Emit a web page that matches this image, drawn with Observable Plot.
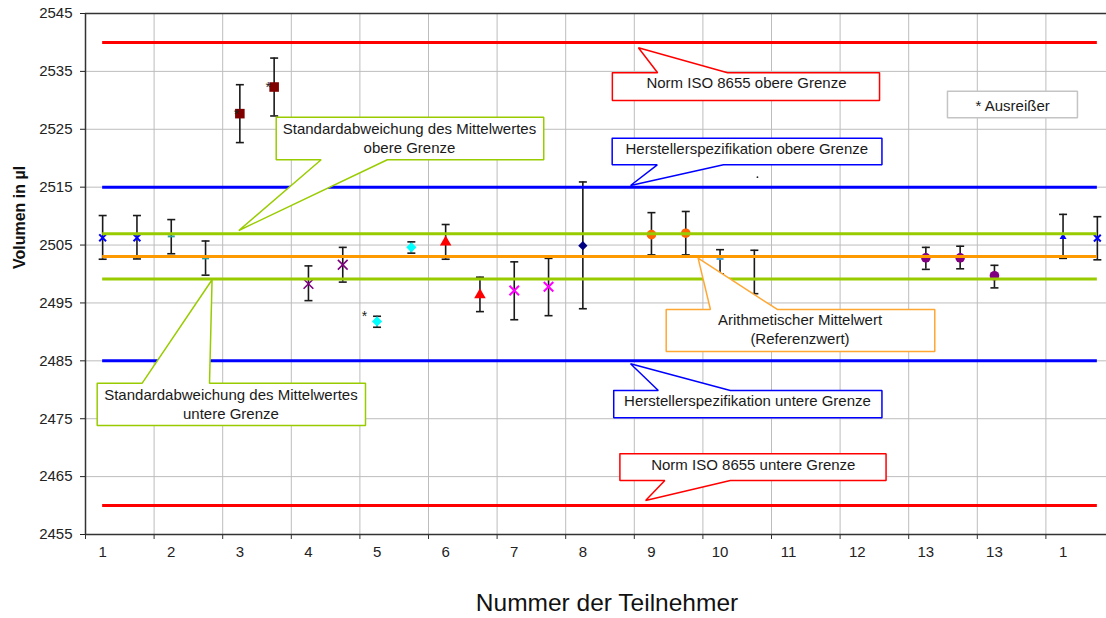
<!DOCTYPE html>
<html><head><meta charset="utf-8">
<script src="https://cdn.jsdelivr.net/npm/d3@7"></script>
<script src="https://cdn.jsdelivr.net/npm/@observablehq/plot@0.6"></script>
<style>body{margin:0;background:#fff;} #chart{width:1106px;height:618px;overflow:hidden;}</style>
</head><body><div id="chart"></div>
<script>
// ---- data ----
const participantLabels = ["1","2","3","4","5","6","7","8","9","10","11","12","13","13","1"];
const values = [2506.25, 2506.25, 2506.5, 2502.7, 2527.7, 2532.3, 2498.3, 2501.6, 2491.8, 2504.6,
                2505.5, 2496.4, 2497.15, 2497.8, 2504.9, null, 2506.8, 2507.05, 2502.6, 2499.1,
                null, null, null, null, 2502.8, 2502.8, 2499.7, null, 2506.4, 2506.2];
const lows   = [2502.55, 2502.6, 2503.5, 2499.8, 2522.7, 2527.3, 2495.4, 2498.6, 2490.8, 2503.6,
                2502.55, 2493.5, 2492.1, 2492.8, 2494.0, null, 2503.3, 2503.3, 2500.0, 2496.6,
                null, null, null, null, 2500.8, 2500.9, 2497.6, null, 2502.7, 2502.45];
const highs  = [2510.1, 2510.1, 2509.4, 2505.7, 2532.7, 2537.3, 2501.4, 2504.6, 2492.7, 2505.55,
                2508.55, 2499.45, 2502.1, 2502.7, 2515.9, null, 2510.6, 2510.8, 2504.2, 2504.1,
                null, null, null, null, 2504.6, 2504.8, 2501.5, null, 2510.3, 2509.9];
const markerKeys = ["blueX","blueX","tealDash","tealDash","darkRedSquare","darkRedSquare","purpleX","purpleX","cyanDiamond","cyanDiamond",
                "redTriangle","redTriangle","magentaX","magentaX","navyDiamond",null,"orangeCircle","orangeCircle","lightBlueDash","lightBlueDash",
                null,null,null,null,"purpleCircle","purpleCircle","purpleCircle",null,"blueTriangle","blueX"];
const refLines = [
  {name:"Norm ISO 8655 obere Grenze", value:2540, color:"#ff0000"},
  {name:"Norm ISO 8655 untere Grenze", value:2460, color:"#ff0000"},
  {name:"Herstellerspezifikation obere Grenze", value:2515, color:"#0000ff"},
  {name:"Herstellerspezifikation untere Grenze", value:2485, color:"#0000ff"},
  {name:"SD obere Grenze", value:2506.95, color:"#99cc00"},
  {name:"SD untere Grenze", value:2499.15, color:"#99cc00"},
  {name:"Mittelwert", value:2503.03, color:"#ff9900"}
];
const outlierStars = [{x:4.40, y:2528.24},{x:5.33, y:2532.96},{x:8.13, y:2493.4}];
const strayDot = [{x:19.59, y:2516.72}];
const callouts = [
 {text:"Norm ISO 8655 obere Grenze", color:"#ff0000", box:[15.36,23.15,2529.97,2534.76], edge:"top", base:[16.68,18.72], tip:[16.12,2539.07], at:[19.27,2533.13]},
 {text:"* Ausreißer", color:"#c4c4c4", box:[25.13,28.92,2526.98,2531.58], at:[27.03,2529.28]},
 {text:"Herstellerspezifikation obere Grenze", color:"#0000ff", box:[15.355,23.22,2518.86,2523.46], edge:"bottom", base:[16.67,18.6], tip:[15.89,2515.29], at:[19.28,2521.73]},
 {text:"Standardabweichung des Mittelwertes\nobere Grenze", color:"#99cc00", box:[5.56,13.36,2519.73,2527.09], edge:"bottom", base:[6.87,8.80], tip:[4.47,2507.52], at:[9.445,2523.58]},
 {text:"Standardabweichung des Mittelwertes\nuntere Grenze", color:"#99cc00", box:[0.341,8.163,2473.83,2481.14], edge:"top", base:[1.653,3.615], tip:[3.69,2499.0], at:[4.24,2477.67]},
 {text:"Arithmetischer Mittelwert\n(Referenzwert)", color:"#ffa733", box:[16.93,24.76,2486.61,2493.87], edge:"top", base:[18.22,20.17], tip:[17.86,2502.75], at:[20.83,2490.59]},
 {text:"Herstellerspezifikation untere Grenze", color:"#0000ff", box:[15.40,23.22,2475.16,2479.88], edge:"top", base:[16.70,18.80], tip:[15.89,2484.49], at:[19.30,2478.27]},
 {text:"Norm ISO 8655 untere Grenze", color:"#ff0000", box:[15.58,23.34,2464.33,2468.94], edge:"bottom", base:[16.89,18.80], tip:[16.33,2460.87], at:[19.47,2467.21]}
];

// ---- derived ----
const nCat = values.length;
const yTicks = d3.range(2455, 2546, 10);
const xGrid = d3.range(2, nCat, 2);
const rows = values.map((v, i) => ({x: i + 0.5, v, lo: lows[i], hi: highs[i], key: markerKeys[i]})).filter(d => d.v != null);

const dash = {draw(ctx) { ctx.moveTo(-3.5, 0); ctx.lineTo(3.5, 0); }};
const cap = {draw(ctx) { ctx.moveTo(-4, 0); ctx.lineTo(4, 0); }};
const markerStyles = {
  blueX: {symbol:"times", r:3.2, stroke:"#0000ff", strokeWidth:2, fill:"none"},
  tealDash: {symbol:dash, stroke:"#2e9e9e", strokeWidth:2, fill:"none"},
  darkRedSquare: {symbol:"square", r:5.4, fill:"#800000", stroke:"none"},
  purpleX: {symbol:"times", r:4.5, stroke:"#800080", strokeWidth:1.6, fill:"none"},
  cyanDiamond: {symbol:"diamond2", r:4.6, fill:"#00ffff", stroke:"none"},
  redTriangle: {symbol:"triangle", r:4.3, fill:"#ff0000", stroke:"none"},
  magentaX: {symbol:"times", r:4.4, stroke:"#ff00ff", strokeWidth:2, fill:"none"},
  navyDiamond: {symbol:"diamond2", r:4.2, fill:"#000080", stroke:"none"},
  orangeCircle: {symbol:"circle", r:4.8, fill:"#ff6600", stroke:"none"},
  lightBlueDash: {symbol:dash, stroke:"#4da6e0", strokeWidth:2, fill:"none"},
  purpleCircle: {symbol:"circle", r:4.8, fill:"#800080", stroke:"none"},
  blueTriangle: {symbol:"triangle", r:2.6, fill:"#0000ff", stroke:"none"}
};
const markerMarks = Object.entries(markerStyles).map(([k, s]) =>
  Plot.dot(rows.filter(d => d.key === k), {x: "x", y: "v", ...s}));

function outline(c) {
  const [x1, x2, y1, y2] = c.box;
  if (c.edge === "top") return [[x1,y2],[c.base[0],y2],c.tip,[c.base[1],y2],[x2,y2],[x2,y1],[x1,y1],[x1,y2]];
  if (c.edge === "bottom") return [[x1,y2],[x2,y2],[x2,y1],[c.base[1],y1],c.tip,[c.base[0],y1],[x1,y1],[x1,y2]];
  return [[x1,y2],[x2,y2],[x2,y1],[x1,y1],[x1,y2]];
}
const calloutMarks = callouts.map(c => Plot.line(outline(c), {
  x: d => d[0], y: d => d[1], stroke: c.color, fill: "white", strokeWidth: 1.5, strokeLinejoin: "miter"}));

const chart = Plot.plot({
  width: 1106, height: 618,
  marginLeft: 85, marginTop: 13, marginBottom: 84, marginRight: -8,
  x: {domain: [0, nCat], axis: null},
  y: {domain: [2455, 2545], axis: null},
  style: {fontFamily: "'Liberation Sans', Arial, sans-serif", fontSize: "15px", background: "white", overflow: "hidden"},
  marks: [
    Plot.gridY(yTicks, {stroke: "#bdbdbd", strokeOpacity: 1}),
    Plot.gridX(xGrid, {stroke: "#bdbdbd", strokeOpacity: 1}),
    Plot.ruleX(rows, {x: "x", y1: "lo", y2: "hi", stroke: "#1a1a1a", strokeWidth: 1.6}),
    Plot.dot(rows, {x: "x", y: "hi", symbol: cap, stroke: "#1a1a1a", strokeWidth: 1.6, fill: "none"}),
    Plot.dot(rows, {x: "x", y: "lo", symbol: cap, stroke: "#1a1a1a", strokeWidth: 1.6, fill: "none"}),
    ...markerMarks,
    Plot.ruleY(refLines, {y: "value", x1: 0.5, x2: nCat - 0.5, stroke: "color", strokeWidth: 3}),
    ...calloutMarks,
    Plot.text(callouts, {x: d => d.at[0], y: d => d.at[1], text: "text", fontSize: 15, lineHeight: 1.25, fill: "#1a1a1a"}),
    Plot.text(outlierStars, {x: "x", y: "y", text: () => "*", fontSize: 14, dy: 4, fill: "#222"}),
    Plot.dot(strayDot, {x: "x", y: "y", r: 0.9, fill: "#222", stroke: "none"}),
    Plot.ruleX([0], {stroke: "#333", strokeWidth: 1.5}),
    Plot.ruleY([2455, 2545], {stroke: "#333", strokeWidth: 1.5}),
    Plot.axisY(yTicks, {tickSize: 5, tickPadding: 8, tickFormat: d => String(d), label: null, fontSize: 15, color: "#222"}),
    Plot.axisX([0, ...xGrid], {tickSize: 5, tickFormat: () => "", label: null, color: "#333"}),
    Plot.text(participantLabels, {x: (d, i) => 2 * i + 0.5, text: d => d, frameAnchor: "bottom", dy: 22, fontSize: 15, fill: "#222"}),
    Plot.text(["Volumen in µl"], {text: d => d, frameAnchor: "left", dx: -66, dy: -5, rotate: -90, fontWeight: "bold", fontSize: 16, fill: "#111"}),
    Plot.text(["Nummer der Teilnehmer"], {text: d => d, frameAnchor: "bottom", dx: 7, dy: 76, fontSize: 24.5, fill: "#111"})
  ]
});
document.getElementById("chart").append(chart);
</script>
</body></html>
